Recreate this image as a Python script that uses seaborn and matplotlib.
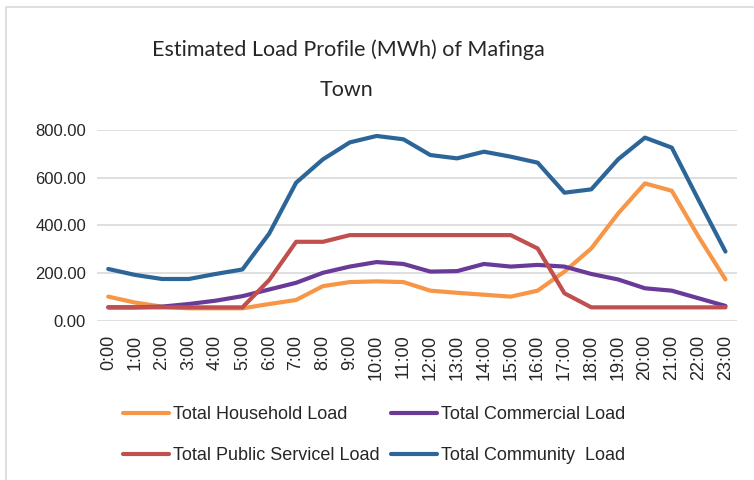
import pandas as pd
import matplotlib
matplotlib.use("Agg")
import matplotlib.pyplot as plt
import seaborn as sns
from matplotlib.patches import Rectangle

# data
hours = [f"{h}:00" for h in range(24)]
household = [101, 76, 59, 52, 52, 52, 70, 87, 145, 162, 165, 162,
             126, 117, 109, 101, 126, 206, 303, 450, 576, 545, 352, 173]
commercial = [56, 56, 59, 70, 84, 103, 131, 159, 201, 227, 246, 238,
              206, 208, 238, 227, 234, 227, 196, 173, 136, 126, 94, 62]
public_service = [56, 56, 56, 56, 56, 56, 171, 331, 331, 359, 359, 359,
                  359, 359, 359, 359, 303, 115, 56, 56, 56, 56, 56, 56]
community = [217, 192, 175, 175, 196, 215, 366, 579, 677, 748, 775, 761,
             695, 681, 709, 688, 663, 537, 551, 677, 768, 726, 506, 290]

series_names = ["Total Household Load", "Total Commercial Load",
                "Total Public Servicel Load", "Total Community  Load"]
colors = ["#F79646", "#6A3A98", "#C0504D", "#2C6598"]

df = pd.DataFrame({"hour": list(range(24)),
                   series_names[0]: household,
                   series_names[1]: commercial,
                   series_names[2]: public_service,
                   series_names[3]: community})
long_df = df.melt(id_vars="hour", var_name="series", value_name="load")

sns.set_style("white")
plt.rcParams['font.family'] = ['Liberation Sans', 'DejaVu Sans']

fig = plt.figure(figsize=(7.54, 4.80), dpi=100)
ax = fig.add_axes([97 / 754, 1 - 320.7 / 480, 640 / 754, 190.7 / 480])

sns.lineplot(data=long_df, x="hour", y="load", hue="series",
             hue_order=series_names, palette=colors, linewidth=3.0,
             ax=ax, legend=False, solid_capstyle="round")

ax.set_xlim(-0.42, 23.43)
ax.set_ylim(0, 800)
ax.set_yticks([0, 200, 400, 600, 800])
ax.set_yticklabels([f"{v:.2f}" for v in [0, 200, 400, 600, 800]], fontsize=12)
ax.set_xticks(range(24))
ax.set_xticklabels(hours, rotation=90, fontsize=13)
ax.tick_params(axis="both", length=0, pad=8)
ax.tick_params(axis="x", pad=10)
ax.set_xlabel("")
ax.set_ylabel("")
ax.grid(axis="y", color="#D9D9D9", linewidth=1.2)
ax.set_axisbelow(True)
for s in ax.spines.values():
    s.set_visible(False)

# title (two lines, as in the reference)
fig.text(348 / 754, 1 - 50 / 480, "Estimated Load Profile (MWh) of Mafinga",
         ha="center", va="center", fontsize=15.5, family=["Lato", "DejaVu Sans"],
         color="#262626")
fig.text(346 / 754, 1 - 90 / 480, "Town", ha="center", va="center",
         fontsize=15.5, family=["Lato", "DejaVu Sans"], color="#262626")

# legend, filled row by row like the reference
lines = ax.get_lines()[:4]
order = [0, 2, 1, 3]
leg = fig.legend([lines[i] for i in order], [series_names[i] for i in order],
                 ncol=2, loc="center left",
                 bbox_to_anchor=(123 / 754, 1 - 435 / 480), frameon=False,
                 fontsize=13, handlelength=2.55, handletextpad=0.22,
                 columnspacing=0.65, labelspacing=1.32, borderpad=0,
                 borderaxespad=0)
for t in leg.get_texts():
    t.set_color("#262626")

# chart area border
fig.patches.append(Rectangle((6 / 754, -0.05), 1.0, 1 - 7 / 480 + 0.05,
                             transform=fig.transFigure, fill=False,
                             edgecolor="#D9D9D9", linewidth=1.2))

fig.savefig("out.png", dpi=100)
